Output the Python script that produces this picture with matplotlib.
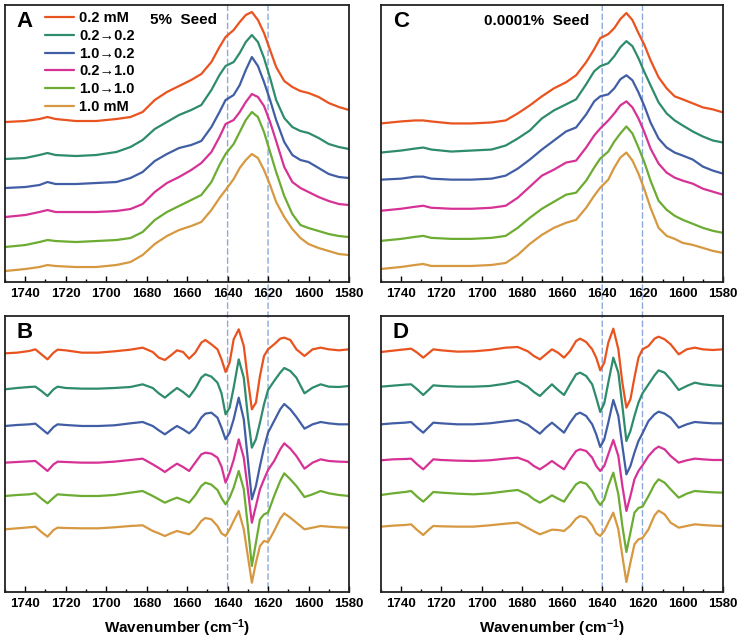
import matplotlib
matplotlib.use("Agg")
import matplotlib.pyplot as plt
from matplotlib.patches import ConnectionPatch
from matplotlib.ticker import MultipleLocator

plt.rcParams["font.family"] = ["Liberation Sans", "DejaVu Sans"]
plt.rcParams["font.weight"] = "bold"
plt.rcParams["axes.labelweight"] = "bold"
plt.rcParams["mathtext.fontset"] = "custom"
plt.rcParams["mathtext.rm"] = "Liberation Sans:bold"
plt.rcParams["mathtext.default"] = "rm"

labels = ["0.2 mM", "0.2\u21920.2", "1.0\u21920.2", "0.2\u21921.0", "1.0\u21921.0", "1.0 mM"]
colors = ["#E9531F", "#2E8B6C", "#415EA5", "#D63296", "#6CAC32", "#D69840"]
marker_lines = [1640, 1620]

# absorbance spectra (stacked, arbitrary units)
wn_abs = [1750, 1740, 1733, 1729, 1725, 1715, 1705, 1695, 1688, 1682, 1676, 1670,
          1664, 1658, 1653, 1648, 1644, 1641, 1637, 1634, 1631, 1628, 1625, 1622,
          1619, 1616, 1612, 1608, 1604, 1600, 1595, 1590, 1585, 1580]

a_02 = [160, 161, 163, 165, 163, 161, 161, 163, 165, 170, 182, 190, 196, 202, 208, 220, 235,
        245, 252, 260, 267, 270, 262, 249, 232, 215, 201, 195, 191, 189, 185, 179, 175, 172]
a_02_02 = [123, 124, 127, 129, 127, 126, 127, 130, 135, 142, 153, 160, 167, 172, 177, 192, 207,
           216, 220, 229, 240, 247, 240, 224, 204, 182, 164, 155, 151, 149, 144, 138, 135, 133]
a_10_02 = [94, 95, 97, 100, 98, 98, 99, 100, 104, 110, 121, 128, 134, 137, 141, 155, 170,
           182, 187, 197, 212, 225, 216, 200, 182, 162, 140, 127, 122, 120, 114, 108, 105, 104]
a_02_10 = [65, 67, 70, 72, 70, 70, 70, 71, 73, 78, 90, 99, 105, 112, 119, 130, 145,
           158, 162, 170, 180, 188, 185, 176, 160, 141, 115, 100, 94, 90, 85, 81, 78, 77]
a_10_10 = [35, 37, 40, 42, 41, 40, 41, 42, 44, 50, 62, 70, 76, 82, 87, 100, 117,
           128, 138, 150, 162, 170, 165, 150, 130, 110, 86, 68, 57, 54, 51, 48, 46, 45]
a_10 = [11, 13, 15, 17, 16, 15, 15, 17, 20, 27, 38, 46, 52, 56, 60, 72, 84,
        92, 103, 114, 122, 128, 124, 112, 97, 80, 65, 53, 44, 38, 34, 31, 28, 27]

c_02 = [158, 160, 161, 161, 160, 158, 158, 159, 161, 168, 176, 185, 193, 199, 206, 219, 232,
        243, 247, 253, 262, 268, 261, 248, 236, 221, 204, 193, 185, 182, 178, 174, 172, 169]
c_02_02 = [129, 131, 133, 134, 132, 130, 131, 132, 136, 143, 151, 163, 171, 177, 182, 197, 210,
           215, 218, 225, 234, 240, 235, 223, 209, 196, 179, 168, 161, 156, 150, 145, 141, 139]
c_10_02 = [102, 103, 105, 105, 103, 102, 102, 103, 106, 113, 122, 132, 141, 150, 154, 167, 180,
           185, 187, 193, 202, 206, 201, 189, 175, 159, 143, 134, 129, 126, 122, 115, 111, 108]
c_02_10 = [71, 73, 75, 76, 74, 73, 73, 74, 76, 84, 95, 106, 112, 119, 121, 134, 146,
           153, 161, 168, 176, 180, 174, 163, 149, 133, 118, 109, 104, 101, 98, 93, 90, 87]
c_10_10 = [41, 43, 45, 46, 44, 43, 43, 44, 46, 54, 64, 73, 80, 87, 89, 101, 114,
           123, 130, 140, 148, 155, 148, 134, 119, 101, 81, 72, 66, 62, 58, 54, 51, 49]
c_10 = [13, 15, 17, 18, 16, 16, 16, 17, 19, 27, 38, 47, 54, 59, 62, 74, 86,
        94, 102, 114, 124, 129, 121, 108, 92, 74, 54, 46, 43, 39, 37, 34, 31, 29]

# second derivative spectra (stacked, arbitrary units)
wn_der = [1750, 1744, 1738, 1735, 1732, 1729, 1726, 1724, 1720, 1712, 1704, 1696, 1688,
          1682, 1677, 1674, 1671, 1668, 1665, 1662, 1659, 1656, 1653, 1651, 1648, 1645,
          1643, 1641, 1639, 1637, 1634.5, 1632, 1630, 1628, 1626, 1624, 1622, 1620, 1617,
          1614, 1612, 1609, 1606, 1602, 1598, 1594, 1590, 1585, 1580]

b_02 = [716, 718, 723, 728, 713, 698, 718, 727, 725, 718, 718, 722, 727, 733, 720, 703, 696,
        710, 725, 720, 700, 718, 748, 756, 743, 728, 698, 660, 688, 758, 788, 738, 638, 548,
        568, 648, 708, 728, 743, 760, 763, 756, 728, 708, 728, 733, 728, 725, 728]
b_02_02 = [608, 612, 615, 616, 603, 588, 608, 616, 612, 610, 610, 612, 615, 623, 612, 596, 583,
           598, 612, 600, 585, 610, 643, 653, 646, 628, 596, 533, 553, 613, 698, 643, 528, 433,
           458, 508, 563, 606, 633, 658, 672, 663, 643, 596, 613, 623, 616, 615, 618]
b_10_02 = [498, 501, 503, 505, 490, 475, 495, 503, 501, 498, 498, 500, 506, 510, 498, 485, 473,
           486, 498, 488, 476, 493, 523, 535, 538, 523, 493, 458, 478, 518, 583, 518, 398, 278,
           318, 378, 433, 478, 513, 548, 564, 548, 525, 490, 503, 510, 506, 503, 503]
b_02_10 = [388, 390, 392, 393, 378, 363, 383, 391, 390, 388, 388, 391, 396, 400, 383, 372, 360,
           373, 385, 375, 363, 388, 413, 418, 415, 403, 376, 328, 358, 396, 458, 403, 308, 208,
           258, 308, 338, 366, 393, 428, 446, 430, 408, 370, 388, 398, 393, 391, 390]
b_10_10 = [288, 291, 293, 296, 280, 266, 283, 293, 291, 288, 288, 291, 298, 303, 288, 278, 268,
           276, 283, 276, 268, 290, 318, 328, 322, 306, 282, 263, 283, 313, 363, 308, 198, 78,
           148, 218, 233, 238, 288, 333, 356, 338, 318, 285, 293, 303, 296, 291, 288]
b_10 = [188, 191, 194, 196, 180, 166, 186, 193, 192, 191, 191, 194, 198, 200, 183, 176, 168,
        176, 183, 178, 173, 188, 213, 222, 218, 198, 176, 168, 188, 213, 243, 188, 108, 28,
        88, 138, 153, 150, 183, 220, 236, 223, 208, 188, 193, 198, 196, 194, 193]

d_02 = [720, 724, 728, 730, 718, 703, 718, 728, 725, 721, 722, 726, 733, 735, 722, 708, 698,
        713, 728, 718, 703, 723, 753, 760, 750, 728, 703, 665, 688, 748, 790, 728, 628, 553,
        578, 643, 703, 728, 738, 760, 766, 758, 743, 713, 728, 733, 728, 726, 728]
d_02_02 = [616, 619, 622, 623, 608, 591, 608, 620, 618, 616, 616, 618, 625, 633, 616, 600, 588,
           606, 623, 606, 591, 623, 653, 658, 648, 623, 583, 540, 566, 628, 703, 658, 558, 453,
           483, 528, 568, 596, 623, 650, 665, 658, 638, 606, 618, 628, 623, 620, 618]
d_10_02 = [503, 506, 508, 510, 493, 478, 496, 508, 506, 503, 503, 506, 512, 516, 502, 488, 475,
           493, 508, 493, 478, 508, 533, 538, 528, 503, 473, 435, 458, 508, 576, 528, 438, 353,
           378, 418, 453, 476, 513, 533, 541, 535, 523, 493, 503, 510, 508, 506, 506]
d_02_10 = [395, 398, 399, 400, 383, 368, 386, 398, 396, 394, 393, 395, 400, 403, 392, 378, 368,
           380, 393, 380, 368, 398, 423, 428, 423, 403, 378, 363, 378, 413, 456, 408, 318, 243,
           288, 338, 363, 380, 408, 428, 436, 428, 408, 388, 395, 400, 398, 396, 396]
d_10_10 = [291, 296, 300, 303, 286, 271, 288, 300, 298, 295, 293, 296, 302, 306, 292, 278, 268,
           278, 290, 280, 271, 298, 323, 330, 325, 303, 278, 261, 278, 318, 358, 293, 198, 120,
           178, 238, 252, 256, 288, 323, 338, 328, 308, 283, 295, 303, 301, 299, 298]
d_10 = [196, 199, 201, 203, 186, 171, 188, 198, 197, 196, 196, 200, 205, 208, 192, 182, 173,
        180, 187, 186, 183, 198, 220, 228, 223, 200, 176, 168, 183, 208, 238, 188, 108, 30,
        88, 143, 158, 162, 188, 230, 244, 233, 208, 193, 198, 203, 201, 199, 198]

panels = [
    ("A", [0.0067, 0.5607, 0.4605, 0.4315], wn_abs, [a_02, a_02_02, a_10_02, a_02_10, a_10_10, a_10], 277),
    ("C", [0.5100, 0.5607, 0.4578, 0.4315], wn_abs, [c_02, c_02_02, c_10_02, c_02_10, c_10_10, c_10], 276),
    ("B", [0.0067, 0.0779, 0.4605, 0.4299], wn_der, [b_02, b_02_02, b_10_02, b_02_10, b_10_10, b_10], 828),
    ("D", [0.5100, 0.0779, 0.4578, 0.4299], wn_der, [d_02, d_02_02, d_10_02, d_02_10, d_10_10, d_10], 828),
]

fig = plt.figure(figsize=(7.47, 6.42), dpi=100)
axes = {}
for letter, rect, wn, curves, ytop in panels:
    ax = fig.add_axes(rect)
    ax.set_facecolor("none")
    for vals, lab, col in zip(curves, labels, colors):
        ax.plot(wn, vals, color=col, lw=1.6, label=lab,
                solid_joinstyle="round", solid_capstyle="round")
    ax.set_xlim(1750, 1580)
    ax.set_ylim(0, ytop)
    ax.xaxis.set_major_locator(MultipleLocator(20))
    ax.xaxis.set_minor_locator(MultipleLocator(10))
    ax.tick_params(axis="x", which="major", direction="in", length=4.5, width=1, pad=4, labelsize=9.5)
    ax.tick_params(axis="x", which="minor", direction="in", length=2.2, width=1)
    ax.set_yticks([])
    plt.setp(ax.get_xticklabels(), fontweight="bold")
    for sp in ax.spines.values():
        sp.set_linewidth(1.3)
        sp.set_color("#222222")
    ax.text(0.058, 0.942, letter, transform=ax.transAxes, fontsize=16,
            ha="center", va="center", fontweight="bold")
    axes[letter] = ax

axes["A"].text(0.519, 0.946, "5%  Seed", transform=axes["A"].transAxes,
               fontsize=11, ha="center", va="center", fontweight="bold")
axes["C"].text(0.456, 0.942, "0.0001%  Seed", transform=axes["C"].transAxes,
               fontsize=11, ha="center", va="center", fontweight="bold")
for key in ("B", "D"):
    axes[key].set_xlabel("Wavenumber (cm$^{-1}$)", fontsize=11, labelpad=6, fontweight="bold")

axes["A"].legend(loc="upper left", bbox_to_anchor=(0.116, 0.978), frameon=False,
                 prop={"size": 10.5, "weight": "bold"}, handlelength=2.0, handletextpad=0.35,
                 labelspacing=0.26, borderpad=0, borderaxespad=0)

# dashed guide lines running through the top and bottom panels
for top, bottom in (("A", "B"), ("C", "D")):
    for wn in marker_lines:
        con = ConnectionPatch(xyA=(wn, axes[top].get_ylim()[1]), coordsA="data", axesA=axes[top],
                              xyB=(wn, 0), coordsB="data", axesB=axes[bottom],
                              color="#8EA9DB", lw=1.0, linestyle=(0, (4, 2.5)), zorder=-1)
        fig.add_artist(con)

fig.savefig("out.png", dpi=100, facecolor="white")
